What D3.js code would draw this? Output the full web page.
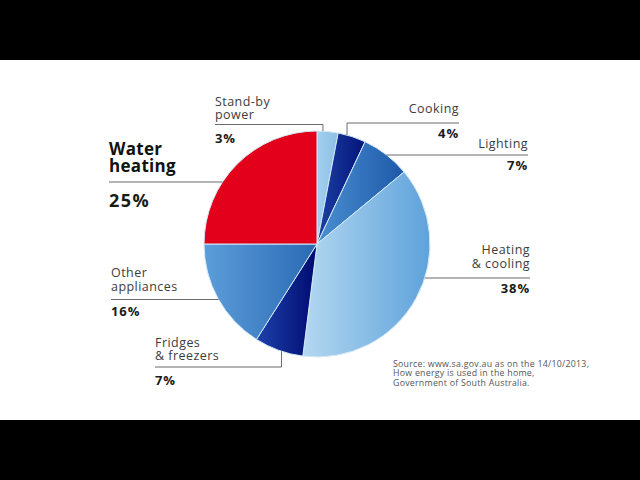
<!DOCTYPE html>
<html>
<head>
<meta charset="utf-8">
<script src="https://cdn.jsdelivr.net/npm/d3@7/dist/d3.min.js"></script>
<style>
  html, body { margin: 0; padding: 0; background: #000; }
  svg { display: block; }
</style>
</head>
<body>
<div id="chart"></div>
<script>
// Energy use in the home – pie with leader-line labels.
const categories = ['Stand-by power', 'Cooking', 'Lighting', 'Heating & cooling',
                    'Fridges & freezers', 'Other appliances', 'Water heating'];
const values = [3, 4, 7, 38, 7, 16, 25];
const labelLines = [['Stand-by', 'power'], ['Cooking'], ['Lighting'], ['Heating', '& cooling'],
                    ['Fridges', '& freezers'], ['Other', 'appliances'], ['Water', 'heating']];
const pctLabels = ['3%', '4%', '7%', '38%', '7%', '16%', '25%'];
const sourceLines = [
  'Source: www.sa.gov.au as on the 14/10/2013,',
  'How energy is used in the home,',
  'Government of South Australia.',
];

// slice colours: [light, dark] for a left-to-right gradient
const fills = [
  ['#a2cfee', '#8cc0e6'],
  ['#1c42a4', '#04137a'],
  ['#4b90d2', '#1d58a8'],
  ['#b4d8f1', '#5ea2db'],
  ['#1c42aa', '#000a70'],
  ['#5c9dda', '#2a6ab4'],
  ['#e3001b', '#e3001b'],
];

const W = 640, H = 480;
const cx = 317, cy = 244, R = 113;
const FONT = '"Open Sans", "DejaVu Sans", sans-serif';

const svg = d3.select('#chart').append('svg')
  .attr('width', W).attr('height', H);

svg.append('rect').attr('width', W).attr('height', H).attr('fill', '#000');
svg.append('rect').attr('y', 60).attr('width', W).attr('height', 360).attr('fill', '#fff');

const defs = svg.append('defs');
fills.forEach((c, i) => {
  const g = defs.append('linearGradient').attr('id', 'g' + i)
    .attr('x1', 0).attr('x2', 1).attr('y1', 0).attr('y2', 0);
  g.append('stop').attr('offset', 0).attr('stop-color', c[0]);
  g.append('stop').attr('offset', 1).attr('stop-color', c[1]);
});

const pie = d3.pie().sort(null).value((d) => d)(values);
const arc = d3.arc().innerRadius(0).outerRadius(R);

const gPie = svg.append('g').attr('transform', `translate(${cx},${cy})`);
gPie.selectAll('path.slice').data(pie).enter().append('path')
  .attr('class', 'slice')
  .attr('d', arc)
  .attr('fill', (d, i) => `url(#g${i})`)
  .attr('stroke', '#d4eaf8')
  .attr('stroke-width', 1)
  .attr('stroke-linejoin', 'round');

// label layout (positions only; text comes from the arrays above)
// side: 'l' = left aligned, 'r' = right aligned
// kind: 'h' = horizontal line into the pie, 'v' = horizontal line then drop to slice
const layout = [
  { x: 215, side: 'l', y0: 105.5, lh: 13,   ly: 124.5, py: 143, kind: 'v', frac: 0.28, big: false },
  { x: 459, side: 'r', y0: 113,   lh: 13,   ly: 123,   py: 138, kind: 'v', frac: 0.32, big: false },
  { x: 528, side: 'r', y0: 148,   lh: 13,   ly: 155,   py: 170, kind: 'h', big: false },
  { x: 530, side: 'r', y0: 254,   lh: 14,   ly: 278,   py: 293, kind: 'h', big: false },
  { x: 155, side: 'l', y0: 347,   lh: 13,   ly: 367,   py: 385, kind: 'v', frac: 0.44, big: false },
  { x: 111, side: 'l', y0: 277,   lh: 14,   ly: 299.5, py: 316, kind: 'h', big: false },
  { x: 109, side: 'l', y0: 154.5, lh: 17,   ly: 182,   py: 207, kind: 'h', big: true },
];

const gLab = svg.append('g');
pie.forEach((d, i) => {
  const L = layout[i];
  const anchor = L.side === 'l' ? 'start' : 'end';

  // leader line
  let pts;
  if (L.kind === 'h') {
    const dy = L.ly - cy;
    const dx = Math.sqrt(R * R - dy * dy);
    const ex = L.side === 'l' ? cx - dx : cx + dx;
    pts = [[L.x, L.ly], [ex, L.ly]];
  } else {
    const a = d.startAngle + L.frac * (d.endAngle - d.startAngle);
    const ax = cx + R * Math.sin(a);
    const ay = cy - R * Math.cos(a);
    pts = [[L.x, L.ly], [ax, L.ly], [ax, ay]];
  }
  gLab.append('path')
    .attr('d', d3.line()(pts))
    .attr('fill', 'none')
    .attr('stroke', '#5a5a5a')
    .attr('stroke-width', 0.9);

  const t = gLab.append('text')
    .attr('x', L.x).attr('y', L.y0)
    .attr('text-anchor', anchor)
    .attr('font-family', FONT)
    .attr('font-size', L.big ? 17 : 12.5)
    .attr('letter-spacing', L.big ? 0.3 : 0.45)
    .attr('font-weight', L.big ? 700 : 400)
    .attr('fill', L.big ? '#111' : '#3c3c3c');
  labelLines[i].forEach((s, k) => {
    t.append('tspan').attr('x', L.x).attr('y', L.y0 + k * L.lh).text(s);
  });

  gLab.append('text')
    .attr('x', L.x).attr('y', L.py)
    .attr('text-anchor', anchor)
    .attr('font-family', FONT)
    .attr('font-size', L.big ? 18 : 13)
    .attr('letter-spacing', L.big ? 1.5 : 0.9)
    .attr('font-weight', 700)
    .attr('fill', '#1a1a1a')
    .text(pctLabels[i]);
});

const src = svg.append('text')
  .attr('font-family', FONT)
  .attr('font-size', 8.8)
  .attr('letter-spacing', 0.25)
  .attr('fill', '#555');
sourceLines.forEach((s, k) => {
  src.append('tspan').attr('x', 393).attr('y', 367 + k * 9.3).text(s);
});
</script>
</body>
</html>
